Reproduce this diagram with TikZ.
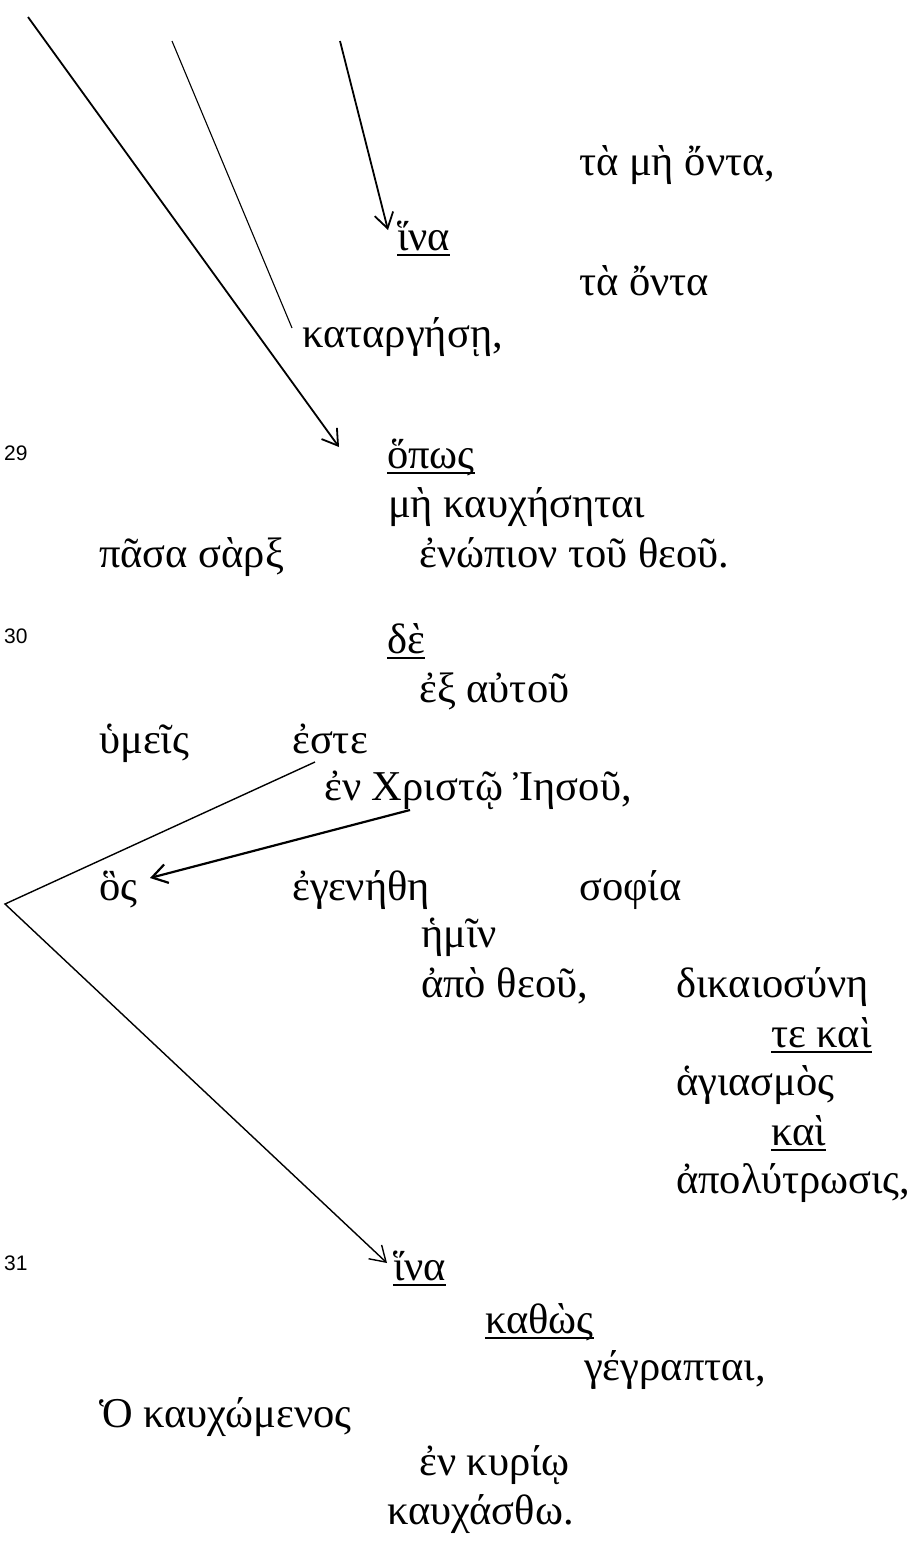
\documentclass[tikz,border=0pt]{standalone}
\usepackage{fontspec}
\setmainfont{Liberation Serif}
\newfontfamily\versefont{Liberation Sans}
\usetikzlibrary{arrows.meta}
\tikzset{
  gk/.style={anchor=base west, inner sep=0pt, font=\fontsize{42.5}{49}\selectfont},
  vn/.style={anchor=base west, inner sep=0pt, font=\versefont\fontsize{21}{25}\selectfont},
  ul/.style={line width=1.6pt},
  conn/.style={line width=1.8pt},
  thin/.style={line width=1.1pt},
  arr/.style={-{Straight Barb[length=15pt,width=19pt]}}
}
\begin{document}
\begin{tikzpicture}[x=1pt,y=-1pt]
\useasboundingbox (0,0) rectangle (914,1542);
% text
\node[gk] (tmo) at (579,175) {τὰ μὴ ὄντα,};
\node[gk] (ina1) at (397,250) {ἵνα};
\node[gk] (to) at (579,295) {τὰ ὄντα};
\node[gk] (kat) at (302,347) {καταργήσῃ,};
\node[vn] (v29) at (4,460) {29};
\node[gk] (opos) at (387,468) {ὅπως};
\node[gk] (mk) at (388,517) {μὴ καυχήσηται};
\node[gk] (ps) at (99,567) {πᾶσα σὰρξ};
\node[gk] (en) at (419,567) {ἐνώπιον τοῦ θεοῦ.};
\node[vn] (v30) at (4,643) {30};
\node[gk] (de) at (387,653) {δὲ};
\node[gk] (ea) at (419,702) {ἐξ αὐτοῦ};
\node[gk] (hym) at (99,753) {ὑμεῖς};
\node[gk] (este) at (292,753) {ἐστε};
\node[gk] (xr) at (324,800) {ἐν Χριστῷ Ἰησοῦ,};
\node[gk] (hos) at (99,900) {ὃς};
\node[gk] (eg) at (292,900) {ἐγενήθη};
\node[gk] (sof) at (579,900) {σοφία};
\node[gk] (hmin) at (421,947) {ἡμῖν};
\node[gk] (apo) at (421,997) {ἀπὸ θεοῦ,};
\node[gk] (dik) at (676,997) {δικαιοσύνη};
\node[gk] (tk) at (771,1047) {τε καὶ};
\node[gk] (hag) at (676,1095) {ἁγιασμὸς};
\node[gk] (kai) at (771,1145) {καὶ};
\node[gk] (apol) at (676,1193) {ἀπολύτρωσις,};
\node[vn] (v31) at (4,1270) {31};
\node[gk] (ina2) at (393,1280) {ἵνα};
\node[gk] (kath) at (485,1333) {καθὼς};
\node[gk] (geg) at (584,1380) {γέγραπται,};
\node[gk] (ok) at (99,1427) {Ὁ καυχώμενος};
\node[gk] (ek) at (419,1475) {ἐν κυρίῳ};
\node[gk] (kauch) at (387,1524) {καυχάσθω.};
% underlines
\foreach \n in {ina1,opos,de,tk,kai,ina2,kath}
  \draw[ul] ([yshift=-5pt]\n.base west) -- ([yshift=-5pt]\n.base east);
% free ends
\coordinate (aS) at (28,17);
\coordinate (bS) at (172,41);
\coordinate (cS) at (340,41);
\coordinate (vx) at (5,904);
% connectors
\draw[conn,arr] (aS) -- ([xshift=-48pt,yshift=21pt]opos.base west);
\draw[thin] (bS) -- ([xshift=-10pt,yshift=19pt]kat.base west);
\draw[conn,arr] (cS) -- ([xshift=-9pt,yshift=20pt]ina1.base west);
\draw[line width=1.4pt,arr] ([xshift=23pt,yshift=-9pt]este.base west) -- (vx) -- ([xshift=-6pt,yshift=17pt]ina2.base west);
\draw[line width=2.2pt,arr] ([xshift=86pt,yshift=-10pt]xr.base west) -- ([xshift=51pt,yshift=22pt]hos.base west);
\end{tikzpicture}
\end{document}
